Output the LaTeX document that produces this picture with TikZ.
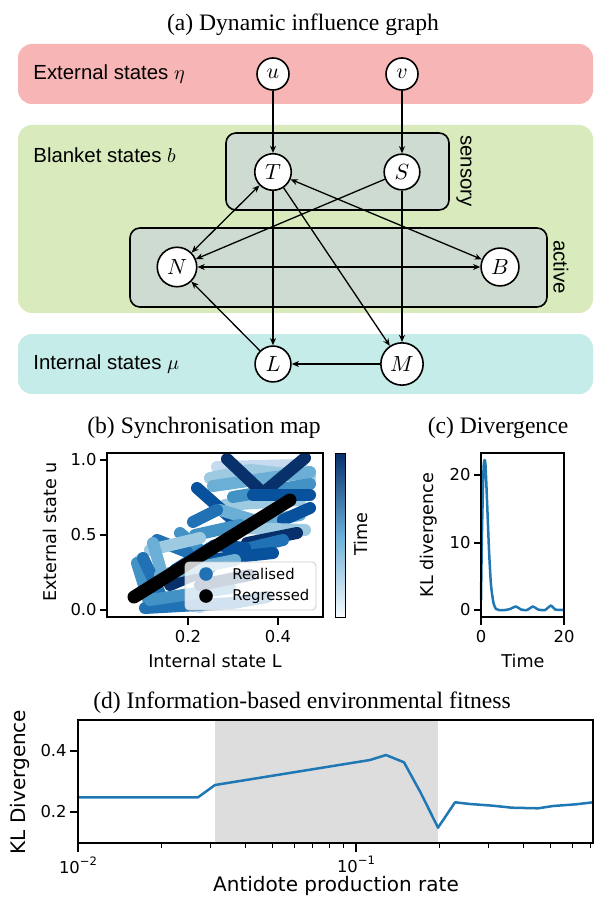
\documentclass[tikz,border=0pt]{standalone}
\usepackage{fontspec}
\setmainfont{Liberation Serif}
\newfontfamily\helv{Liberation Sans}
\newfontfamily\dvs{DejaVu Sans}
\usetikzlibrary{arrows.meta}

\definecolor{extfill}{RGB}{248,181,182}
\definecolor{blanketfill}{RGB}{217,235,188}
\definecolor{intfill}{RGB}{197,236,233}
\definecolor{groupfill}{RGB}{206,219,208}
\definecolor{mplblue}{RGB}{31,119,180}
\definecolor{spangray}{RGB}{221,221,221}
\definecolor{blues0}{RGB}{247,251,255}
\definecolor{blues1}{RGB}{198,219,239}
\definecolor{blues2}{RGB}{158,202,225}
\definecolor{blues3}{RGB}{107,174,214}
\definecolor{blues4}{RGB}{66,146,198}
\definecolor{blues5}{RGB}{33,113,181}
\definecolor{blues6}{RGB}{8,81,156}
\definecolor{blues7}{RGB}{8,48,107}

\tikzset{
  state/.style={circle, draw, line width=0.8pt, fill=white, minimum size=16pt, inner sep=2.6pt, font=\fontsize{11}{13}\selectfont},
  group/.style={draw, line width=0.8pt, fill=groupfill, rounded corners=5pt},
  band/.style={rounded corners=7pt},
  bandlabel/.style={anchor=west, inner sep=0pt, font=\helv\fontsize{10.2}{12}\selectfont},
  ptitle/.style={inner sep=0pt, font=\fontsize{11.8}{14}\selectfont},
  ticklabel/.style={inner sep=0pt, font=\dvs\fontsize{8.2}{10}\selectfont},
  axlabel/.style={inner sep=0pt, font=\dvs\fontsize{8.8}{10}\selectfont},
  legendlabel/.style={inner sep=0pt, font=\dvs\fontsize{7.4}{9}\selectfont},
  biglabel/.style={inner sep=0pt, font=\dvs\fontsize{10}{12}\selectfont},
  blob/.style={line width=6pt, line cap=round, line join=round},
  spine/.style={line width=0.6pt},
}

\begin{document}
\begin{tikzpicture}[x=0.5pt, y=-0.5pt, >={Stealth[length=3.6pt,width=3pt]}]
    \useasboundingbox (0,0) rectangle (594,898);

    % (a) influence graph
    \begin{scope}
      \node[ptitle] (titleA) at (303,25) {(a) Dynamic influence graph};
      \fill[band, extfill] (18,44) rectangle (593,104);
      \fill[band, blanketfill] (18,125) rectangle (593,313);
      \fill[band, intfill] (18,334) rectangle (593,394);
      \draw[group] (226,133) rectangle (449,210);
      \draw[group] (130,228) rectangle (547,307);
      \node[bandlabel] (extlbl) at (33,74) {External states $\eta$};
      \node[bandlabel] (blanketlbl) at (33,155) {Blanket states $b$};
      \node[bandlabel] (intlbl) at (33,364) {Internal states $\mu$};
      \node[rotate=-90, inner sep=0pt, font=\helv\fontsize{10.2}{12}\selectfont] (senslbl) at (464,171) {sensory};
      \node[rotate=-90, inner sep=0pt, font=\helv\fontsize{10.2}{12}\selectfont] (actlbl) at (561,267) {active};

      \node[state] (u) at (273,74) {$u$};
      \node[state] (v) at (402,74) {$v$};
      \node[state] (T) at (273,172) {$T$};
      \node[state] (S) at (402,172) {$S$};
      \node[state] (N) at (177,267) {$N$};
      \node[state] (B) at (500,267) {$B$};
      \node[state] (L) at (273,364) {$L$};
      \node[state] (M) at (402,364) {$M$};

      \draw [->, line width=0.65pt] (u) -- (T);
      \draw [->, line width=0.65pt] (v) -- (S);
      \draw [->, line width=0.65pt] (T) -- (L);
      \draw [->, line width=0.65pt] (S) -- (M);
      \draw [->, line width=0.65pt] (T) -- (M);
      \draw [->, line width=0.65pt] (S) -- (N);
      \draw [<->, line width=0.65pt] (T) -- (N);
      \draw [<->, line width=0.65pt] (T) -- (B);
      \draw [<->, line width=0.65pt] (N) -- (B);
      \draw [->, line width=0.65pt] (L) -- (N);
      \draw [->, line width=0.65pt] (M) -- (L);
    \end{scope}

    % (b) synchronisation map
    \begin{scope}
      \node[ptitle] (titleB) at (204,428) {(b) Synchronisation map};
      \begin{scope}
        \clip (107,453) rectangle (323,617);
        \draw[blob, blues1] (217,467) -- (300,465) -- (310,480);
        \draw[blob, blues1] (140,560) -- (160,600) -- (200,607);
        \draw[blob, blues2] (210,478) -- (250,470) -- (310,476);
        \draw[blob, blues2] (225,505) -- (300,500);
        \draw[blob, blues3] (213,486) -- (310,472);
        \draw[blob, blues4] (233,497) -- (310,484);
        \draw[blob, blues7] (227,459) -- (263,493) -- (305,458);
        \draw[blob, blues6] (197,488) -- (233,520);
        \draw[blob, blues6] (253,495) -- (310,495);
        \draw[blob, blues3] (220,510) -- (260,522) -- (300,515);
        \draw[blob, blues5] (193,522) -- (217,510);
        \draw[blob, blues6] (283,520) -- (310,508);
        \draw[blob, blues2] (240,528) -- (305,530);
        \draw[blob, blues4] (195,535) -- (240,525);
        \draw[blob, blues7] (247,543) -- (297,533);
        \draw[blob, blues5] (233,552) -- (283,540);
        \draw[blob, blues4] (180,533) -- (200,550);
        \draw[blob, blues5] (157,540) -- (187,552);
        \draw[blob, blues2] (150,550) -- (200,538);
        \draw[blob, blues6] (207,560) -- (273,553);
        \draw[blob, blues3] (153,543) -- (160,567);
        \draw[blob, blues4] (137,563) -- (150,605);
        \draw[blob, blues5] (143,558) -- (162,598);
        \draw[blob, blues7] (170,585) -- (210,568);
        \draw[blob, blues3] (160,575) -- (235,560);
        \draw[blob, blues5] (145,608) -- (233,603) -- (267,597);
        \draw[blob, blues4] (150,600) -- (230,588);
        \draw[blob, blues6] (175,570) -- (215,545) -- (245,548);
        \draw[blob, blues7] (200,585) -- (250,575);
        \draw[line width=6.5pt, line cap=round] (134,597) -- (290,500);
      \end{scope}
      \filldraw[fill=white, fill opacity=0.8, draw=black!20, rounded corners=2pt] (185,562) rectangle (316,610);
      \fill[blues5] (206,574) circle (3.4pt);
      \fill[black] (206,596) circle (3.4pt);
      \node[legendlabel, anchor=west] (realised) at (232,574) {Realised};
      \node[legendlabel, anchor=west] (regressed) at (232,596) {Regressed};
      \draw[spine] (107,453) rectangle (323,617);
      \foreach \y/\lbl [count=\i] in {460/1.0, 535/0.5, 610/0.0} {
        \draw[spine] (107,\y) -- (100,\y);
        \node[ticklabel, anchor=east] (byt\i) at (97,\y) {\lbl};
      }
      \foreach \x/\lbl [count=\i] in {188/0.2, 278/0.4} {
        \draw[spine] (\x,617) -- (\x,625);
        \node[ticklabel, anchor=north] (bxt\i) at (\x,630) {\lbl};
      }
      \node[axlabel] (bxlabel) at (215,661) {Internal state L};
      \node[axlabel, rotate=90] (bylabel) at (50,532) {External state u};
      \shade[bottom color=blues0, top color=blues3] (335,535) rectangle (345,617);
      \shade[bottom color=blues3, top color=blues7] (335,453) rectangle (345,535.5);
      \draw[line width=0.5pt] (335,453) rectangle (345,617);
      \node[axlabel, rotate=90] (cblabel) at (361,534) {Time};
    \end{scope}

    % (c) divergence
    \begin{scope}
      \node[ptitle] (titleC) at (498,428) {(c) Divergence};
      \draw[mplblue, line width=1.25pt, line join=round] plot[smooth, tension=0.4] coordinates {
        (481,600) (482,530) (483.5,470) (484.5,460) (485.5,465) (487,500) (489,550)
        (491,585) (493.5,603) (496,609) (499,610) (505,610) (510,609) (516,606.5)
        (521,609.5) (527,610) (533,606.5) (538,609.5) (545,610) (551,605.5)
        (555,609.5) (564,610)};
      \draw[spine] (481,453) rectangle (564,617);
      \foreach \y/\lbl [count=\i] in {475/20, 543/10, 610/0} {
        \draw[spine] (481,\y) -- (474,\y);
        \node[ticklabel, anchor=east] (cyt\i) at (471,\y) {\lbl};
      }
      \foreach \x/\lbl [count=\i] in {481/0, 564/20} {
        \draw[spine] (\x,617) -- (\x,625);
        \node[ticklabel, anchor=north] (cxt\i) at (\x,630) {\lbl};
      }
      \node[axlabel] (cxlabel) at (523,661) {Time};
      \node[axlabel, rotate=90] (cylabel) at (429,535) {KL divergence};
    \end{scope}

    % (d) fitness
    \begin{scope}
      \node[ptitle] (titleD) at (302,703) {(d) Information-based environmental fitness};
      \fill[spangray] (215,720) rectangle (438,843);
      \draw[mplblue, line width=1.25pt, line join=round]
        (78,797.3) -- (198,797.3) -- (215,785) -- (370,760) -- (386,755) -- (404,762.3)
        -- (421,793.3) -- (438,827.7) -- (455,802.3) -- (470,804) -- (493,805.7)
        -- (512,807.7) -- (538,808.3) -- (553,806) -- (576,804.3) -- (593,802.3);
      \draw[spine] (78,720) rectangle (593,843);
      \foreach \y/\lbl [count=\i] in {751/0.4, 812/0.2} {
        \draw[spine] (78,\y) -- (70,\y);
        \node[ticklabel, anchor=east] (dyt\i) at (67,\y) {\lbl};
      }
      \foreach \k in {2,...,9} {
        \draw[line width=0.5pt] ({78+278*log10(\k)},843) -- ++(0,5);
      }
      \foreach \k in {2,...,7} {
        \draw[line width=0.5pt] ({356+278*log10(\k)},843) -- ++(0,5);
      }
      \foreach \x/\lbl [count=\i] in {78/2, 356/1} {
        \draw[spine] (\x,843) -- (\x,852);
        \node[ticklabel, anchor=north] (dxt\i) at (\x,856) {10\raisebox{0.9ex}{\fontsize{5.8}{7}\selectfont −\lbl}};
      }
      \node[biglabel] (dxlabel) at (336,886) {Antidote production rate};
      \node[biglabel, rotate=90] (dylabel) at (20,782) {KL Divergence};
    \end{scope}
  \end{tikzpicture}
\end{document}
